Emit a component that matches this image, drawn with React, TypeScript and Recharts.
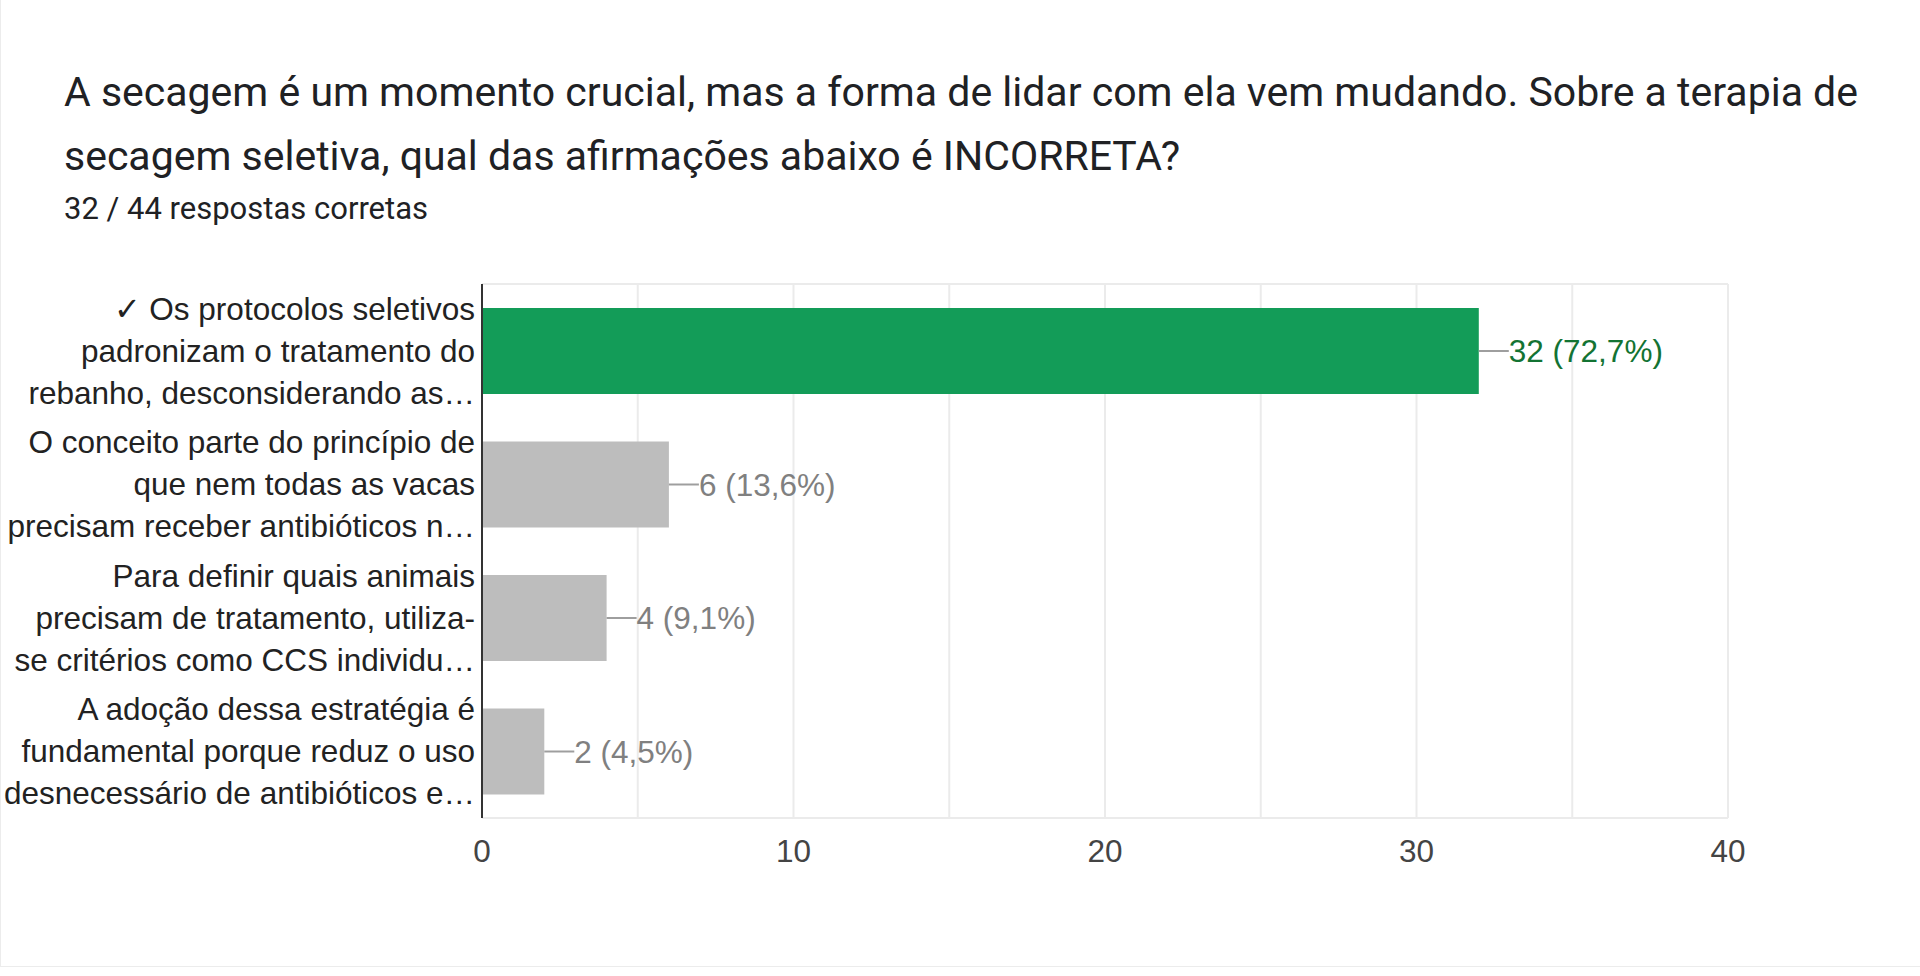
import { Bar, BarChart, CartesianGrid, Cell, LabelList, XAxis, YAxis } from "recharts";

const TITLE_LINES = [
  "A secagem é um momento crucial, mas a forma de lidar com ela vem mudando. Sobre a terapia de",
  "secagem seletiva, qual das afirmações abaixo é INCORRETA?",
];
const SUBTITLE = "32 / 44 respostas corretas";

const CATEGORIES = ["a", "b", "c", "d"];
const CATEGORY_LINES = [
  ["✓ Os protocolos seletivos", "padronizam o tratamento do", "rebanho, desconsiderando as…"],
  ["O conceito parte do princípio de", "que nem todas as vacas", "precisam receber antibióticos n…"],
  ["Para definir quais animais", "precisam de tratamento, utiliza-", "se critérios como CCS individu…"],
  ["A adoção dessa estratégia é", "fundamental porque reduz o uso", "desnecessário de antibióticos e…"],
];
const COUNTS = [32, 6, 4, 2];
const PERCENTS = ["72,7%", "13,6%", "9,1%", "4,5%"];
const X_TICKS = [0, 10, 20, 30, 40];
const GRID_STEPS = [0, 5, 10, 15, 20, 25, 30, 35, 40];
const X_MAX = 40;

const BAR_COLORS = ["#139c58", "#bdbdbd", "#bdbdbd", "#bdbdbd"];
const LABEL_COLORS = ["#137333", "#808080", "#808080", "#808080"];

const data = CATEGORIES.map((key, i) => ({ key, count: COUNTS[i] }));

const FONT = "Arial, 'Liberation Sans', sans-serif";
const CHART_FONT_SIZE = 31.5;

function CategoryTick(props: any) {
  const { x, y, payload } = props;
  const idx = CATEGORIES.indexOf(payload.value);
  const lines = CATEGORY_LINES[idx] || [];
  return (
    <g>
      {lines.map((line, i) => (
        <text
          key={i}
          x={x + 1}
          y={y + (i - 1) * 42}
          textAnchor="end"
          dominantBaseline="central"
          fontFamily={FONT}
          fontSize={CHART_FONT_SIZE}
          fill="#222222"
        >
          {line}
        </text>
      ))}
    </g>
  );
}

function BarValueLabel(props: any) {
  const { x, y, width, height, index } = props;
  const endX = x + width;
  const midY = y + height / 2;
  return (
    <g>
      <line x1={endX} x2={endX + 30} y1={midY} y2={midY} stroke="#9e9e9e" strokeWidth={2} />
      <text
        x={endX + 30}
        y={midY}
        dominantBaseline="central"
        fontFamily={FONT}
        fontSize={CHART_FONT_SIZE}
        fill={LABEL_COLORS[index]}
      >
        {`${COUNTS[index]} (${PERCENTS[index]})`}
      </text>
    </g>
  );
}

export default function App() {
  return (
    <div
      style={{
        position: "absolute",
        left: 0,
        top: 0,
        width: 1920,
        height: 967,
        background: "#ffffff",
        borderLeft: "1px solid #ececec",
        borderBottom: "1px solid #ececec",
        boxSizing: "border-box",
      }}
    >
      <div
        style={{
          position: "absolute",
          left: 63,
          top: 60,
          fontFamily: "Roboto, 'Noto Sans', sans-serif",
          fontSize: 41,
          lineHeight: "64px",
          color: "#202124",
          whiteSpace: "nowrap",
        }}
      >
        {TITLE_LINES.map((line, i) => (
          <div key={i}>{line}</div>
        ))}
      </div>
      <div
        style={{
          position: "absolute",
          left: 63,
          top: 191,
          fontFamily: "Roboto, 'Noto Sans', sans-serif",
          fontSize: 31,
          lineHeight: "36px",
          color: "#202124",
          whiteSpace: "nowrap",
        }}
      >
        {SUBTITLE}
      </div>
      <div style={{ position: "absolute", left: 0, top: 0 }}>
        <BarChart
          width={1920}
          height={900}
          data={data}
          layout="vertical"
          margin={{ top: 284, right: 193, bottom: 22, left: 0 }}
          barSize={86}
        >
          <CartesianGrid
            stroke="#ebebeb"
            strokeWidth={2}
            verticalCoordinatesGenerator={({ offset }: any) =>
              GRID_STEPS.map((v) => offset.left + (v / X_MAX) * offset.width)
            }
            horizontalCoordinatesGenerator={({ offset }: any) => [offset.top, offset.top + offset.height]}
          />
          <XAxis
            type="number"
            domain={[0, X_MAX]}
            ticks={X_TICKS}
            height={60}
            axisLine={false}
            tickLine={false}
            tickMargin={16}
            tick={{ fontSize: CHART_FONT_SIZE, fill: "#444444", fontFamily: FONT }}
          />
          <YAxis
            type="category"
            dataKey="key"
            width={481}
            axisLine={{ stroke: "#333333", strokeWidth: 2 }}
            tickLine={false}
            tick={<CategoryTick />}
          />
          <Bar dataKey="count" isAnimationActive={false}>
            {data.map((d, i) => (
              <Cell key={d.key} fill={BAR_COLORS[i]} />
            ))}
            <LabelList dataKey="count" content={<BarValueLabel />} />
          </Bar>
        </BarChart>
      </div>
    </div>
  );
}
